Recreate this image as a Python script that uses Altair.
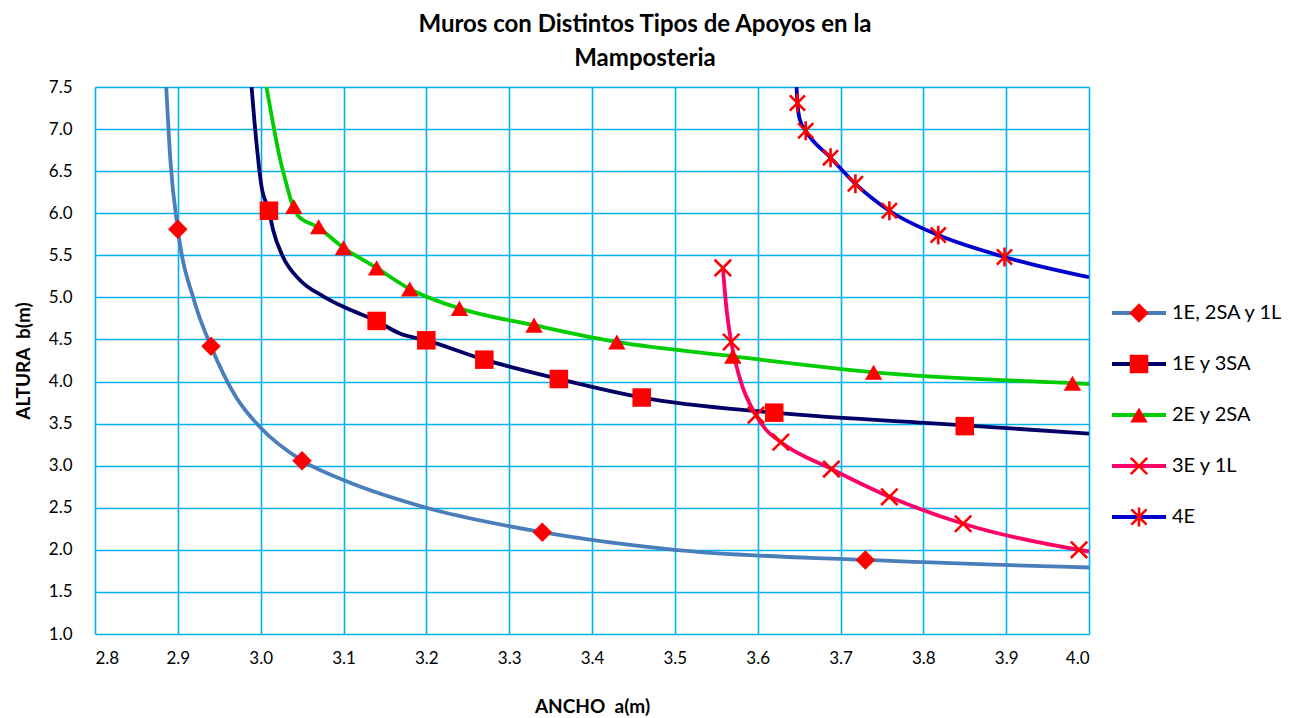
import altair as alt
import pandas as pd

series = ["1E, 2SA y 1L", "1E y 3SA", "2E y 2SA", "3E y 1L", "4E"]
line_colors = ["#4A7EBB", "#000066", "#00CC00", "#FF0066", "#0000CC"]

# smooth curves
s1_line_x = [2.886, 2.891, 2.90, 2.92, 2.94, 2.97, 3.00, 3.05, 3.10, 3.20, 3.34, 3.50, 3.73, 4.00]
s1_line_y = [7.50, 6.63, 5.81, 4.95, 4.42, 3.82, 3.45, 3.06, 2.83, 2.50, 2.21, 2.00, 1.88, 1.79]
s2_line_x = [2.989, 2.995, 3.001, 3.01, 3.015, 3.027, 3.047, 3.076, 3.104, 3.14, 3.168, 3.20, 3.27, 3.36, 3.46, 3.62, 3.85, 4.00]
s2_line_y = [7.50, 6.83, 6.32, 6.03, 5.80, 5.48, 5.21, 5.01, 4.87, 4.72, 4.57, 4.49, 4.26, 4.03, 3.81, 3.63, 3.48, 3.38]
s3_line_x = [3.007, 3.015, 3.023, 3.031, 3.039, 3.046, 3.068, 3.10, 3.14, 3.18, 3.24, 3.33, 3.43, 3.57, 3.74, 3.98, 4.00]
s3_line_y = [7.50, 7.06, 6.66, 6.35, 6.08, 5.96, 5.84, 5.59, 5.35, 5.10, 4.87, 4.67, 4.47, 4.30, 4.11, 3.98, 3.97]
s4_line_x = [3.558, 3.562, 3.568, 3.579, 3.598, 3.609, 3.628, 3.689, 3.759, 3.848, 3.988, 4.00]
s4_line_y = [5.35, 4.90, 4.47, 4.02, 3.60, 3.44, 3.28, 2.96, 2.63, 2.31, 2.00, 1.98]
s5_line_x = [3.647, 3.648, 3.651, 3.658, 3.688, 3.718, 3.759, 3.818, 3.898, 4.00]
s5_line_y = [7.50, 7.31, 7.11, 6.98, 6.66, 6.35, 6.03, 5.74, 5.48, 5.24]

# marked data points
s1_pts_x = [2.90, 2.94, 3.05, 3.34, 3.73]
s1_pts_y = [5.81, 4.42, 3.06, 2.21, 1.88]
s2_pts_x = [3.01, 3.14, 3.20, 3.27, 3.36, 3.46, 3.62, 3.85]
s2_pts_y = [6.03, 4.72, 4.49, 4.26, 4.03, 3.81, 3.63, 3.47]
s3_pts_x = [3.04, 3.07, 3.10, 3.14, 3.18, 3.24, 3.33, 3.43, 3.57, 3.74, 3.98]
s3_pts_y = [6.08, 5.84, 5.59, 5.35, 5.10, 4.87, 4.67, 4.47, 4.30, 4.11, 3.98]
s4_pts_x = [3.558, 3.568, 3.598, 3.628, 3.689, 3.759, 3.848, 3.988]
s4_pts_y = [5.35, 4.47, 3.60, 3.28, 2.96, 2.63, 2.31, 2.00]
s5_pts_x = [3.648, 3.658, 3.688, 3.718, 3.759, 3.818, 3.898]
s5_pts_y = [7.31, 6.98, 6.66, 6.35, 6.03, 5.74, 5.48]

x_ticks = [2.8, 2.9, 3.0, 3.1, 3.2, 3.3, 3.4, 3.5, 3.6, 3.7, 3.8, 3.9, 4.0]
y_ticks = [1.0, 1.5, 2.0, 2.5, 3.0, 3.5, 4.0, 4.5, 5.0, 5.5, 6.0, 6.5, 7.0, 7.5]

line_sets = [(s1_line_x, s1_line_y), (s2_line_x, s2_line_y), (s3_line_x, s3_line_y),
             (s4_line_x, s4_line_y), (s5_line_x, s5_line_y)]
pt_sets = [(s1_pts_x, s1_pts_y), (s2_pts_x, s2_pts_y), (s3_pts_x, s3_pts_y),
           (s4_pts_x, s4_pts_y), (s5_pts_x, s5_pts_y)]

lines_df = pd.concat([pd.DataFrame({"series": s, "x": xs, "y": ys, "order": range(len(xs))})
                      for s, (xs, ys) in zip(series, line_sets)], ignore_index=True)
pts_df = pd.concat([pd.DataFrame({"series": s, "x": xs, "y": ys})
                    for s, (xs, ys) in zip(series, pt_sets)], ignore_index=True)
legend_df = pd.DataFrame({"series": series})

X_PATH = "M-1,-1L1,1M-1,1L1,-1"
AST_PATH = "M-1,-1L1,1M-1,1L1,-1M0,-1.25L0,1.25"
shapes = ["diamond", "square", "triangle-up", X_PATH, AST_PATH]
marker_sizes = [380, 230, 400, 240, 240]

FONT = "Lato"
color_scale = alt.Scale(domain=series, range=line_colors)
shape_scale = alt.Scale(domain=series, range=shapes)
size_scale = alt.Scale(domain=series, range=marker_sizes)

xenc = alt.X("x:Q", scale=alt.Scale(domain=[2.8, 4.0], nice=False, zero=False),
             axis=alt.Axis(values=x_ticks, format=".1f", title="ANCHO\u00a0 a(m)",
                           grid=True, gridColor="#00B0F0", gridWidth=1.6, gridOpacity=1,
                           ticks=False, tickSize=0, domain=False, labelPadding=16,
                           labelFontSize=17, labelFont=FONT, labelColor="#000",
                           titleFont=FONT, titleFontSize=19, titleFontWeight="bold",
                           titleColor="#000", titlePadding=31))
yenc = alt.Y("y:Q", scale=alt.Scale(domain=[1.0, 7.5], nice=False, zero=False),
             axis=alt.Axis(values=y_ticks, format=".1f", title="ALTURA\u00a0 b(m)",
                           grid=True, gridColor="#00B0F0", gridWidth=1.6, gridOpacity=1,
                           ticks=False, tickSize=0, domain=False, labelPadding=23,
                           labelFontSize=17, labelFont=FONT, labelColor="#000",
                           titleFont=FONT, titleFontSize=19, titleFontWeight="bold",
                           titleColor="#000", titlePadding=15))

lines = alt.Chart(lines_df).mark_line(interpolate="monotone", strokeWidth=3.8, clip=True).encode(
    x=xenc, y=yenc,
    color=alt.Color("series:N", scale=color_scale, legend=None),
    order="order:Q",
)

filled_pts = alt.Chart(pts_df).transform_filter(
    alt.FieldOneOfPredicate(field="series", oneOf=series[:3])
).mark_point(filled=True, opacity=1, color="#FF0000").encode(
    x="x:Q", y="y:Q",
    shape=alt.Shape("series:N", scale=shape_scale, legend=None),
    size=alt.Size("series:N", scale=size_scale, legend=None),
)
stroked_pts = alt.Chart(pts_df).transform_filter(
    alt.FieldOneOfPredicate(field="series", oneOf=series[3:])
).mark_point(filled=False, opacity=1, color="#FF0000", strokeWidth=2.6).encode(
    x="x:Q", y="y:Q",
    shape=alt.Shape("series:N", scale=shape_scale, legend=None),
    size=alt.Size("series:N", scale=size_scale, legend=None),
)

main = alt.layer(lines, filled_pts, stroked_pts)

leg_y = alt.Y("series:N", scale=alt.Scale(type="point", domain=series, range=[226, 430], padding=0), axis=None)
leg_rule = alt.Chart(legend_df).mark_rule(strokeWidth=4).encode(
    x=alt.value(1017), x2=alt.value(1071), y=leg_y,
    color=alt.Color("series:N", scale=color_scale, legend=None),
)
leg_filled = alt.Chart(legend_df).transform_filter(
    alt.FieldOneOfPredicate(field="series", oneOf=series[:3])
).mark_point(filled=True, opacity=1, color="#FF0000").encode(
    x=alt.value(1044), y=leg_y,
    shape=alt.Shape("series:N", scale=shape_scale, legend=None),
    size=alt.Size("series:N", scale=size_scale, legend=None),
)
leg_stroked = alt.Chart(legend_df).transform_filter(
    alt.FieldOneOfPredicate(field="series", oneOf=series[3:])
).mark_point(filled=False, opacity=1, color="#FF0000", strokeWidth=2.6).encode(
    x=alt.value(1044), y=leg_y,
    shape=alt.Shape("series:N", scale=shape_scale, legend=None),
    size=alt.Size("series:N", scale=size_scale, legend=None),
)
leg_text = alt.Chart(legend_df).mark_text(align="left", baseline="middle", fontSize=20,
                                          font=FONT, color="#000").encode(
    x=alt.value(1077), y=leg_y, text="series:N",
)
legend = alt.layer(leg_rule, leg_filled, leg_stroked, leg_text)

chart = alt.layer(main, legend).resolve_scale(y="independent").properties(
    width=994, height=547,
    autosize=alt.AutoSizeParams(type="none"),
    padding={"left": 87, "top": 79, "right": 205, "bottom": 84},
    title=alt.TitleParams(["Muros con Distintos Tipos de Apoyos en la", "Mamposteria"],
                          font=FONT, fontSize=24, fontWeight="bold", color="#000",
                          anchor="middle", frame="group", dx=53, offset=7, lineHeight=34),
).configure_view(stroke="#9A9A9A", strokeWidth=4).configure(background="white")

chart.save("out.html", embed_options={"renderer": "svg", "actions": False})
